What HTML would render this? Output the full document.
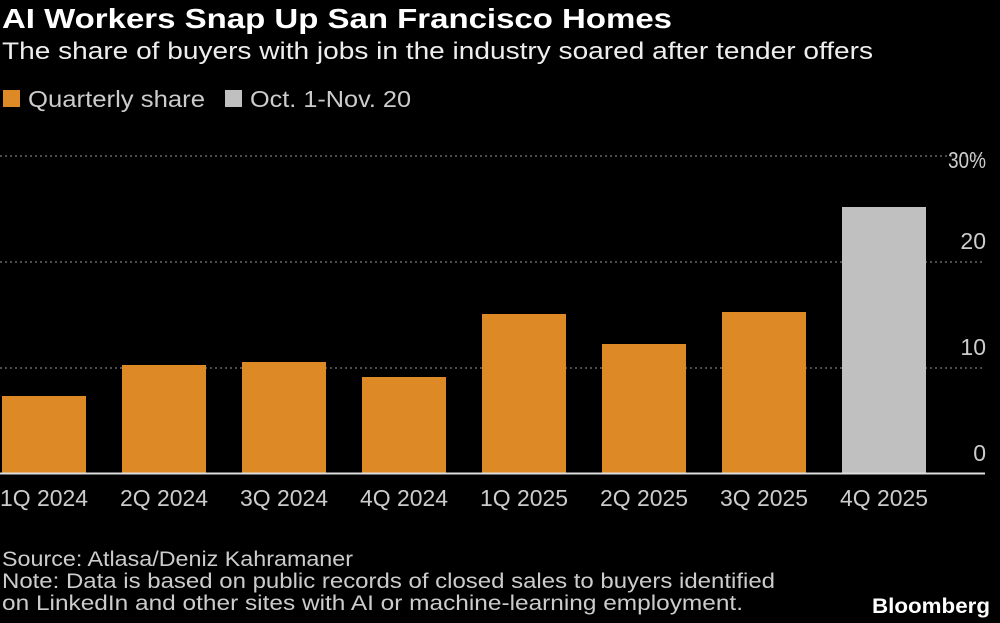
<!DOCTYPE html>
<html><head><meta charset="utf-8"><style>
body{margin:0;background:#000;width:1000px;height:623px;overflow:hidden}
</style></head><body>
<svg style="position:absolute;left:0;top:0" width="1000" height="623" font-family="Liberation Sans,sans-serif">
<text x="2" y="28" font-size="28" font-weight="bold" fill="#fff" textLength="670" lengthAdjust="spacingAndGlyphs">AI Workers Snap Up San Francisco Homes</text>
<text x="2" y="59" font-size="24" fill="#eee" textLength="871" lengthAdjust="spacingAndGlyphs">The share of buyers with jobs in the industry soared after tender offers</text>
<rect x="3" y="90" width="17" height="17" fill="#dd8a26"/>
<text x="28" y="107" font-size="23" fill="#ccc" textLength="177" lengthAdjust="spacingAndGlyphs">Quarterly share</text>
<rect x="225" y="90" width="17" height="17" fill="#c0c0c0"/>
<text x="250" y="107" font-size="23" fill="#ccc" textLength="161" lengthAdjust="spacingAndGlyphs">Oct. 1-Nov. 20</text>
<g stroke="#666" stroke-width="1.5" stroke-dasharray="2,3">
<line x1="0" y1="156" x2="985" y2="156"/><line x1="0" y1="262" x2="985" y2="262"/><line x1="0" y1="368" x2="985" y2="368"/>
</g>
<g fill="#dd8a26">
<rect x="2" y="396" width="84" height="78"/>
<rect x="122" y="365" width="84" height="109"/>
<rect x="242" y="362" width="84" height="112"/>
<rect x="362" y="377" width="84" height="97"/>
<rect x="482" y="314" width="84" height="160"/>
<rect x="602" y="344" width="84" height="130"/>
<rect x="722" y="312" width="84" height="162"/>
</g>
<rect x="842" y="207" width="84" height="267" fill="#c0c0c0"/>
<line x1="0" y1="473.5" x2="985" y2="473.5" stroke="#ddd" stroke-width="2"/>
<g fill="#ccc" font-size="23" text-anchor="end">
<text x="986" y="168" textLength="38" lengthAdjust="spacingAndGlyphs">30%</text><text x="986" y="249">20</text><text x="986" y="355">10</text><text x="986" y="461">0</text>
</g>
<g fill="#ccc" font-size="23">
<text x="0" y="506" textLength="88" lengthAdjust="spacingAndGlyphs">1Q 2024</text>
<text x="120" y="506" textLength="88" lengthAdjust="spacingAndGlyphs">2Q 2024</text>
<text x="240" y="506" textLength="88" lengthAdjust="spacingAndGlyphs">3Q 2024</text>
<text x="360" y="506" textLength="88" lengthAdjust="spacingAndGlyphs">4Q 2024</text>
<text x="480" y="506" textLength="88" lengthAdjust="spacingAndGlyphs">1Q 2025</text>
<text x="600" y="506" textLength="88" lengthAdjust="spacingAndGlyphs">2Q 2025</text>
<text x="720" y="506" textLength="88" lengthAdjust="spacingAndGlyphs">3Q 2025</text>
<text x="840" y="506" textLength="88" lengthAdjust="spacingAndGlyphs">4Q 2025</text>
</g>
<g fill="#ccc" font-size="21">
<text x="2" y="566" textLength="351" lengthAdjust="spacingAndGlyphs">Source: Atlasa/Deniz Kahramaner</text>
<text x="2" y="588" textLength="773" lengthAdjust="spacingAndGlyphs">Note: Data is based on public records of closed sales to buyers identified</text>
<text x="2" y="610" textLength="741" lengthAdjust="spacingAndGlyphs">on LinkedIn and other sites with AI or machine-learning employment.</text>
</g>
<text x="990" y="613" font-size="21" font-weight="bold" fill="#fff" text-anchor="end" textLength="118" lengthAdjust="spacingAndGlyphs">Bloomberg</text>
</svg>
</body></html>
